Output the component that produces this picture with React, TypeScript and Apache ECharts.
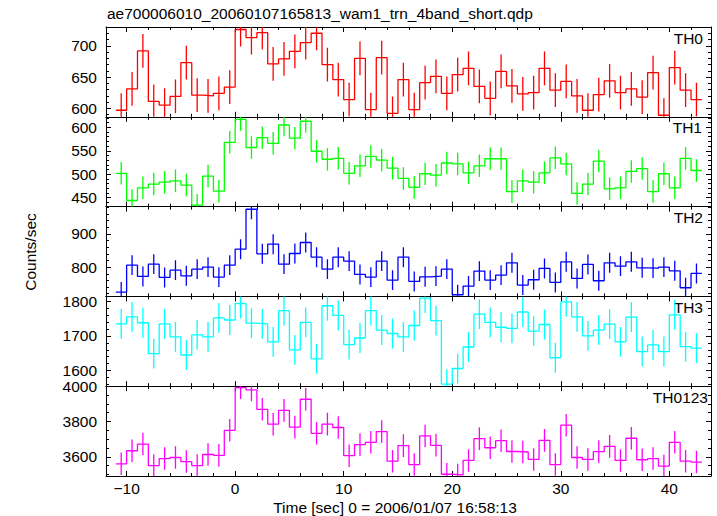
import React, { useEffect, useRef } from "react";
import * as echarts from "echarts";

const TITLE = "ae700006010_20060107165813_wam1_trn_4band_short.qdp";
const X_NAME = "Time [sec] 0 = 2006/01/07 16:58:13";
const Y_NAME = "Counts/sec";

const BIN_START = -11;
const BIN_WIDTH = 1;
const BIN_COUNT = 54;
const binCenters = Array.from({ length: BIN_COUNT }, (_, i) => BIN_START + BIN_WIDTH * (i + 0.5));

const th0 = [
  597, 631, 692, 611, 605, 619, 673, 621, 620, 624, 634,
  726, 713, 721, 671, 679, 691, 705, 720, 670, 646, 614, 680, 598, 681,
  592, 646, 598, 641, 651, 624, 654, 664, 635, 616, 659, 636, 623, 625, 664, 629, 643, 620, 597, 622, 644, 625, 631, 618, 657, 589, 665, 629, 614,
];
const th1 = [
  502, 444, 471, 479, 483, 486, 477, 434, 496, 464, 568,
  617, 557, 578, 566, 605, 577, 613, 549, 532, 534, 502, 518, 538, 530,
  513, 491, 472, 501, 498, 524, 522, 503, 518, 533, 533, 463, 486, 483, 503, 535, 522, 459, 479, 528, 469, 471, 506, 512, 463, 501, 471, 534, 508,
];
const th2 = [
  725, 806, 772, 809, 769, 791, 774, 794, 800, 770, 806,
  854, 974, 840, 869, 809, 841, 874, 830, 794, 830, 818, 778, 770, 818,
  761, 830, 757, 771, 773, 794, 717, 743, 788, 761, 776, 813, 746, 762, 796, 754, 816, 766, 808, 759, 813, 803, 816, 798, 797, 800, 789, 738, 781,
];
const th3 = [
  1735, 1755, 1738, 1649, 1735, 1697, 1645, 1703, 1697, 1752, 1746,
  1793, 1737, 1735, 1683, 1773, 1660, 1739, 1634, 1787, 1759, 1675, 1694, 1773, 1717,
  1707, 1697, 1730, 1809, 1744, 1561, 1606, 1668, 1763, 1739, 1725, 1722, 1769, 1714, 1733, 1637, 1798, 1755, 1700, 1717, 1734, 1683, 1754, 1655, 1674, 1655, 1761, 1669, 1665,
];
const th0123 = [
  3560, 3634, 3672, 3550, 3590, 3596, 3573, 3550, 3613, 3608, 3750,
  3992, 3979, 3869, 3785, 3863, 3768, 3926, 3733, 3785, 3766, 3606, 3669, 3682, 3743,
  3575, 3663, 3556, 3718, 3665, 3501, 3497, 3579, 3703, 3651, 3691, 3630, 3627, 3585, 3693, 3556, 3779, 3596, 3585, 3629, 3659, 3579, 3705, 3583, 3590, 3547, 3682, 3575, 3570,
];

const panelNames = ["TH0", "TH1", "TH2", "TH3", "TH0123"];
const panelValues = [th0, th1, th2, th3, th0123];
const panelErrors = [27, 24, 30, 43, 64];
const panelColors = ["#ff0000", "#00ff00", "#0000ff", "#00ffff", "#ff00ff"];
const yMins = [586.5, 431, 712, 1555, 3491];
const yMaxs = [730, 622.5, 982, 1814, 4000];
const yLabelSteps = [50, 50, 100, 100, 200];
const ySplitNumbers = [3, 4, 3, 3, 3];
const yMinorSplits = [5, 5, 5, 5, 4];
const labelRight = [703, 702, 703, 703, 708];

const X_MIN = -11.9;
const X_MAX = 43.84;
const X_LABEL_STEP = 10;

const FONT = "Liberation Sans, Arial, Helvetica, sans-serif";
const FS = 15.5;

export default function App() {
  const ref = useRef<HTMLDivElement>(null);
  useEffect(() => {
    if (!ref.current) return;
    const chart = echarts.init(ref.current, undefined, { renderer: "svg" });
    const GRID_LEFT = 106;
    const GRID_W = 605;
    const GRID_TOP = 27;
    const GRID_H = 89.8;

    const grids: any[] = [];
    const xAxes: any[] = [];
    const yAxes: any[] = [];
    const series: any[] = [];
    const graphics: any[] = [];

    const tickStyle = { color: "#000", width: 1 };

    panelNames.forEach((name, i) => {
      grids.push({ left: GRID_LEFT, width: GRID_W, top: GRID_TOP + i * GRID_H, height: GRID_H, containLabel: false });
      const isLast = i === panelNames.length - 1;
      ["bottom", "top"].forEach((pos, j) => {
        xAxes.push({
          type: "value",
          gridIndex: i,
          position: pos,
          min: X_MIN,
          max: X_MAX,
          splitNumber: 5,
          axisLine: { show: true, onZero: false, lineStyle: { color: "#000", width: 1 } },
          axisTick: { show: true, inside: true, length: 5, lineStyle: tickStyle },
          minorTick: { show: true, splitNumber: 5, length: 3, lineStyle: tickStyle },
          splitLine: { show: false },
          axisLabel: {
            show: isLast && j === 0,
            margin: 4,
            color: "#000",
            fontFamily: FONT,
            fontSize: FS,
            showMinLabel: true,
            showMaxLabel: true,
            formatter: (v: number) => (Math.abs(v % X_LABEL_STEP) < 1e-6 ? String(v).replace("-", "\u2212") : ""),
          },
        });
      });
      ["left", "right"].forEach((pos, j) => {
        yAxes.push({
          type: "value",
          gridIndex: i,
          position: pos,
          min: yMins[i],
          max: yMaxs[i],
          splitNumber: ySplitNumbers[i],
          axisLine: { show: true, onZero: false, lineStyle: { color: "#000", width: 1 } },
          axisTick: { show: true, inside: true, length: 5, lineStyle: tickStyle },
          minorTick: { show: true, splitNumber: yMinorSplits[i], length: 3, lineStyle: tickStyle },
          splitLine: { show: false },
          axisLabel: {
            show: j === 0,
            margin: 9,
            color: "#000",
            fontFamily: FONT,
            fontSize: FS,
            showMinLabel: true,
            showMaxLabel: true,
            formatter: (v: number) => (Math.abs(v % yLabelSteps[i]) < 1e-6 ? String(v) : ""),
          },
        });
      });

      const vals = panelValues[i];
      const err = panelErrors[i];
      const color = panelColors[i];
      const stepData: number[][] = vals.map((v, k) => [binCenters[k] - BIN_WIDTH / 2, v]);
      stepData.push([binCenters[vals.length - 1] + BIN_WIDTH / 2, vals[vals.length - 1]]);
      series.push({
        type: "line",
        xAxisIndex: 2 * i,
        yAxisIndex: 2 * i,
        step: "end",
        data: stepData,
        showSymbol: false,
        symbol: "none",
        clip: true,
        lineStyle: { color, width: 1.3 },
        silent: true,
      });
      series.push({
        type: "custom",
        xAxisIndex: 2 * i,
        yAxisIndex: 2 * i,
        clip: true,
        silent: true,
        data: vals.map((v, k) => [binCenters[k], v - err, v + err]),
        encode: { x: 0, y: [1, 2] },
        renderItem: (params: any, api: any) => {
          const p1 = api.coord([api.value(0), api.value(1)]);
          const p2 = api.coord([api.value(0), api.value(2)]);
          return {
            type: "line",
            shape: { x1: p1[0], y1: p1[1], x2: p2[0], y2: p2[1] },
            style: { stroke: color, lineWidth: 1.3 },
          };
        },
      });
      graphics.push({
        type: "text",
        x: labelRight[i],
        y: GRID_TOP + i * GRID_H + 3,
        style: { text: name, fill: "#000", font: `${FS}px ${FONT}`, textAlign: "right", textVerticalAlign: "top" },
      });
    });

    graphics.push({
      type: "text",
      x: 107,
      y: 5,
      style: { text: TITLE, fill: "#000", font: `${FS}px ${FONT}`, textAlign: "left", textVerticalAlign: "top" },
    });
    graphics.push({
      type: "text",
      x: 395,
      y: 499,
      style: { text: X_NAME, fill: "#000", font: `${FS}px ${FONT}`, textAlign: "center", textVerticalAlign: "top" },
    });
    graphics.push({
      type: "text",
      x: 30,
      y: 252,
      rotation: Math.PI / 2,
      style: { text: Y_NAME, fill: "#000", font: `${FS}px ${FONT}`, textAlign: "center", textVerticalAlign: "middle" },
    });

    chart.setOption({
      animation: false,
      backgroundColor: "#fff",
      grid: grids,
      xAxis: xAxes,
      yAxis: yAxes,
      series,
      graphic: graphics,
    });
    return () => chart.dispose();
  }, []);
  return <div ref={ref} style={{ width: 717, height: 516, position: "absolute", left: 0, top: 0 }} />;
}
